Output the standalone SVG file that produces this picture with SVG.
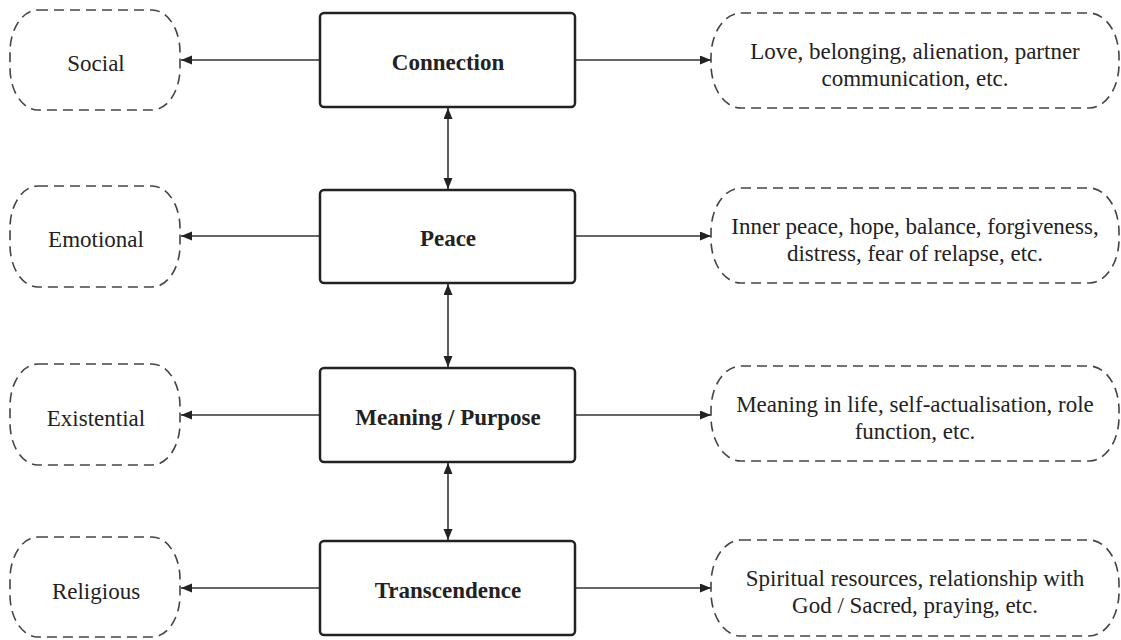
<svg xmlns="http://www.w3.org/2000/svg" width="1121" height="640" viewBox="0 0 1121 640" font-family="'Liberation Serif', 'DejaVu Serif', serif">
<defs>
<style>
.main{fill:#fff;stroke:#222;stroke-width:2.5}
.dash{fill:#fff;stroke:#444;stroke-width:1.6;stroke-dasharray:10 6}
text{font-family:'Liberation Serif','DejaVu Serif',serif;font-size:23px;fill:#222;text-anchor:middle}
.bold{font-weight:bold}
.conn{stroke:#333;stroke-width:1.6;fill:none}
</style>
<marker id="ah" markerUnits="userSpaceOnUse" markerWidth="12" markerHeight="10" refX="11" refY="4.5" orient="auto-start-reverse" viewBox="0 0 12 10">
<path d="M0,0 L11,4.5 L0,9 z" fill="#222"/>
</marker>
</defs>
<rect width="1121" height="640" fill="#fff"/>

<g id="connectors">
<line class="conn" x1="320" y1="60" x2="181" y2="60" marker-end="url(#ah)"/>
<line class="conn" x1="575" y1="60" x2="711" y2="60" marker-end="url(#ah)"/>
<line class="conn" x1="320" y1="236" x2="181" y2="236" marker-end="url(#ah)"/>
<line class="conn" x1="575" y1="236" x2="711" y2="236" marker-end="url(#ah)"/>
<line class="conn" x1="320" y1="415" x2="181" y2="415" marker-end="url(#ah)"/>
<line class="conn" x1="575" y1="415" x2="711" y2="415" marker-end="url(#ah)"/>
<line class="conn" x1="320" y1="588" x2="181" y2="588" marker-end="url(#ah)"/>
<line class="conn" x1="575" y1="588" x2="711" y2="588" marker-end="url(#ah)"/>
<line class="conn" x1="448" y1="108" x2="448" y2="189" marker-start="url(#ah)" marker-end="url(#ah)"/>
<line class="conn" x1="448" y1="284" x2="448" y2="367" marker-start="url(#ah)" marker-end="url(#ah)"/>
<line class="conn" x1="448" y1="463" x2="448" y2="540" marker-start="url(#ah)" marker-end="url(#ah)"/>
</g>

<g id="connection">
<rect class="main" x="320" y="13" width="255" height="94" rx="4"/>
<text class="bold" x="448" y="70">Connection</text>
</g>
<g id="peace">
<rect class="main" x="320" y="190" width="255" height="93" rx="4"/>
<text class="bold" x="448" y="246">Peace</text>
</g>
<g id="meaning">
<rect class="main" x="320" y="368" width="255" height="94" rx="4"/>
<text class="bold" x="448" y="425">Meaning / Purpose</text>
</g>
<g id="transcendence">
<rect class="main" x="320" y="541" width="255" height="94" rx="4"/>
<text class="bold" x="448" y="598">Transcendence</text>
</g>

<g id="social">
<rect class="dash" x="10" y="10" width="170" height="100" rx="28" ry="42"/>
<text x="96" y="71">Social</text>
</g>
<g id="emotional">
<rect class="dash" x="10" y="186" width="170" height="101" rx="28" ry="42"/>
<text x="96" y="247">Emotional</text>
</g>
<g id="existential">
<rect class="dash" x="10" y="364" width="170" height="101" rx="28" ry="42"/>
<text x="96" y="426">Existential</text>
</g>
<g id="religious">
<rect class="dash" x="10" y="537" width="170" height="100" rx="28" ry="42"/>
<text x="96" y="599">Religious</text>
</g>

<g id="connection-detail">
<rect class="dash" x="711" y="13" width="408" height="95" rx="30" ry="44"/>
<text x="915" y="59">Love, belonging, alienation, partner</text>
<text x="915" y="86">communication, etc.</text>
</g>
<g id="peace-detail">
<rect class="dash" x="711" y="188" width="408" height="95" rx="30" ry="44"/>
<text x="915" y="234">Inner peace, hope, balance, forgiveness,</text>
<text x="915" y="261">distress, fear of relapse, etc.</text>
</g>
<g id="meaning-detail">
<rect class="dash" x="711" y="366" width="408" height="95" rx="30" ry="44"/>
<text x="915" y="412">Meaning in life, self-actualisation, role</text>
<text x="915" y="439">function, etc.</text>
</g>
<g id="transcendence-detail">
<rect class="dash" x="711" y="540" width="408" height="96" rx="30" ry="44"/>
<text x="915" y="586">Spiritual resources, relationship with</text>
<text x="915" y="613">God / Sacred, praying, etc.</text>
</g>
</svg>
